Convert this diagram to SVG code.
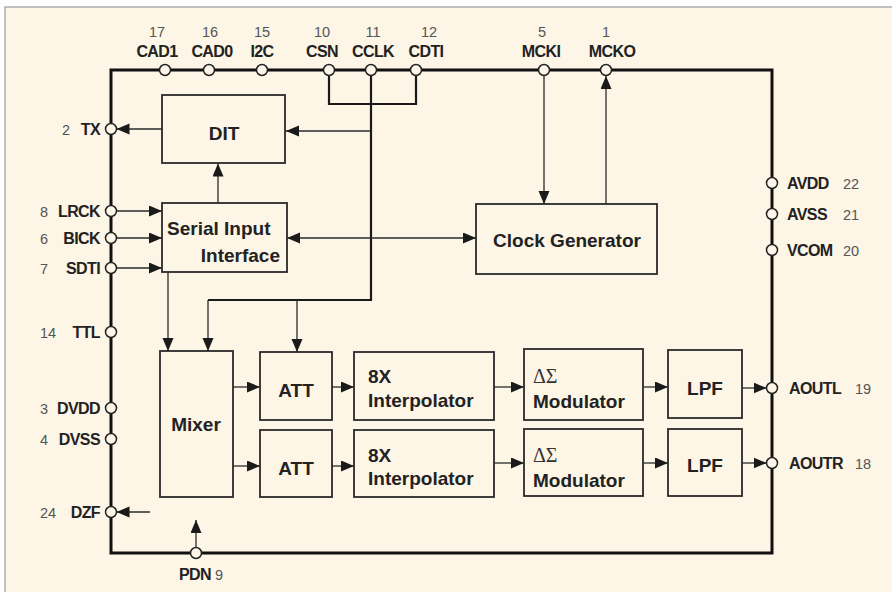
<svg xmlns="http://www.w3.org/2000/svg" width="892" height="592" viewBox="0 0 892 592">
<defs>
<marker id="ah" markerUnits="userSpaceOnUse" markerWidth="14" markerHeight="12" refX="13" refY="5.5" orient="auto-start-reverse" viewBox="0 0 14 12"><path d="M0,0 L13,5.5 L0,11 z" fill="#1a1a1a"/></marker>
</defs>
<style>
.box{fill:none;stroke:#2a2a2a;stroke-width:1.8}
.lbl{font-family:"Liberation Sans",Arial,sans-serif;font-weight:bold;font-size:19px;fill:#222}
.ctr{text-anchor:middle}
.ds{font-family:"Liberation Serif","Times New Roman",serif;font-size:20px;fill:#333}
.pn{font-family:"Liberation Sans",Arial,sans-serif;font-weight:bold;font-size:16px;letter-spacing:-0.6px;fill:#222}
.num{font-family:"Liberation Sans",Arial,sans-serif;font-size:14.5px;fill:#555}
.pin{fill:#fdf6e8;stroke:#222;stroke-width:1.5}
.w{fill:none;stroke:#2a2a2a;stroke-width:1.3}
.ar{marker-end:url(#ah)}
.bus{fill:none;stroke:#1a1a1a;stroke-width:2.2}
</style>
<rect x="0" y="0" width="892" height="592" fill="#ffffff"/>
<rect x="5" y="7" width="900" height="600" fill="#fdf5e6" stroke="#9a9a9a" stroke-width="1.2"/>
<rect id="chip" x="111" y="70" width="661" height="483" fill="none" stroke="#111" stroke-width="3"/>

<g id="connectors">
<path class="w ar" d="M162,129 H116.5"/>
<path class="bus" d="M329,75.5 V104 H416 V75.5"/>
<path class="bus" d="M371,75.5 V300 H208"/>
<path class="w ar" d="M371,131 H286"/>
<path class="w ar" d="M208,300 V351"/>
<path class="w ar" d="M297,300 V352"/>
<path class="w ar" d="M218,203 V163.5"/>
<path class="w ar" d="M116.5,211 H162"/>
<path class="w ar" d="M116.5,238 H162"/>
<path class="w ar" d="M116.5,268 H162"/>
<path class="w ar" d="M287,238 H476" marker-start="url(#ah)"/>
<path class="w ar" d="M544,75.5 V204"/>
<path class="w ar" d="M606,204 V76"/>
<path class="w ar" d="M168,272 V351"/>
<path class="w ar" d="M233,387 H260"/>
<path class="w ar" d="M233,466 H260"/>
<path class="w ar" d="M332,387 H354"/>
<path class="w ar" d="M332,466 H354"/>
<path class="w ar" d="M494,387 H524"/>
<path class="w ar" d="M494,463 H524"/>
<path class="w ar" d="M643,387 H668"/>
<path class="w ar" d="M643,463 H668"/>
<path class="w ar" d="M742,388 H766.5"/>
<path class="w ar" d="M742,463 H766.5"/>
<path class="w ar" d="M150,512 H116.5"/>
<path class="w ar" d="M196,547.5 V520"/>
</g>

<g id="dit"><rect class="box" x="162" y="95" width="123" height="68"/><text class="lbl ctr" x="224" y="140">DIT</text></g>
<g id="sii"><rect class="box" x="162" y="203" width="125" height="69"/><text class="lbl" x="167" y="235">Serial Input</text><text class="lbl" x="280" y="262" text-anchor="end">Interface</text></g>
<g id="clockgen"><rect class="box" x="476" y="204" width="181" height="70"/><text class="lbl ctr" x="567" y="247">Clock Generator</text></g>
<g id="mixer"><rect class="box" x="160" y="351" width="73" height="146"/><text class="lbl ctr" x="196" y="431">Mixer</text></g>
<g id="att1"><rect class="box" x="260" y="352" width="72" height="68"/><text class="lbl ctr" x="296" y="397">ATT</text></g>
<g id="att2"><rect class="box" x="260" y="430" width="72" height="67"/><text class="lbl ctr" x="296" y="475">ATT</text></g>
<g id="interp1"><rect class="box" x="354" y="352" width="140" height="68"/><text class="lbl" x="368" y="383">8X</text><text class="lbl" x="368" y="407">Interpolator</text></g>
<g id="interp2"><rect class="box" x="354" y="430" width="140" height="67"/><text class="lbl" x="368" y="462">8X</text><text class="lbl" x="368" y="485">Interpolator</text></g>
<g id="mod1"><rect class="box" x="524" y="349" width="119" height="71"/><text class="ds" x="533" y="383">ΔΣ</text><text class="lbl" x="533" y="408">Modulator</text></g>
<g id="mod2"><rect class="box" x="524" y="429" width="119" height="67"/><text class="ds" x="533" y="462">ΔΣ</text><text class="lbl" x="533" y="487">Modulator</text></g>
<g id="lpf1"><rect class="box" x="668" y="350" width="74" height="68"/><text class="lbl ctr" x="705" y="395">LPF</text></g>
<g id="lpf2"><rect class="box" x="668" y="429" width="74" height="67"/><text class="lbl ctr" x="705" y="472">LPF</text></g>

<g id="pin-cad1"><circle class="pin" cx="165" cy="70" r="5.5"/><text class="num ctr" x="157" y="37">17</text><text class="pn ctr" x="157" y="57">CAD1</text></g>
<g id="pin-cad0"><circle class="pin" cx="209" cy="70" r="5.5"/><text class="num ctr" x="210" y="37">16</text><text class="pn ctr" x="212" y="57">CAD0</text></g>
<g id="pin-i2c"><circle class="pin" cx="262" cy="70" r="5.5"/><text class="num ctr" x="262" y="37">15</text><text class="pn ctr" x="262" y="57">I2C</text></g>
<g id="pin-csn"><circle class="pin" cx="329" cy="70" r="5.5"/><text class="num ctr" x="322" y="37">10</text><text class="pn ctr" x="322" y="57">CSN</text></g>
<g id="pin-cclk"><circle class="pin" cx="371" cy="70" r="5.5"/><text class="num ctr" x="373" y="37">11</text><text class="pn ctr" x="373" y="57">CCLK</text></g>
<g id="pin-cdti"><circle class="pin" cx="416" cy="70" r="5.5"/><text class="num ctr" x="429" y="37">12</text><text class="pn ctr" x="426" y="57">CDTI</text></g>
<g id="pin-mcki"><circle class="pin" cx="544" cy="70" r="5.5"/><text class="num ctr" x="542" y="37">5</text><text class="pn ctr" x="541" y="57">MCKI</text></g>
<g id="pin-mcko"><circle class="pin" cx="606" cy="70" r="5.5"/><text class="num ctr" x="606" y="37">1</text><text class="pn ctr" x="612" y="57">MCKO</text></g>

<g id="pin-tx"><circle class="pin" cx="111" cy="129" r="5.5"/><text class="num" x="62" y="134.5">2</text><text class="pn" x="100" y="134.5" text-anchor="end">TX</text></g>
<g id="pin-lrck"><circle class="pin" cx="111" cy="211" r="5.5"/><text class="num" x="40" y="216.5">8</text><text class="pn" x="100" y="216.5" text-anchor="end">LRCK</text></g>
<g id="pin-bick"><circle class="pin" cx="111" cy="238" r="5.5"/><text class="num" x="40" y="243.5">6</text><text class="pn" x="100" y="243.5" text-anchor="end">BICK</text></g>
<g id="pin-sdti"><circle class="pin" cx="111" cy="268" r="5.5"/><text class="num" x="40" y="273.5">7</text><text class="pn" x="100" y="273.5" text-anchor="end">SDTI</text></g>
<g id="pin-ttl"><circle class="pin" cx="111" cy="332" r="5.5"/><text class="num" x="40" y="337.5">14</text><text class="pn" x="100" y="337.5" text-anchor="end">TTL</text></g>
<g id="pin-dvdd"><circle class="pin" cx="111" cy="408" r="5.5"/><text class="num" x="40" y="413.5">3</text><text class="pn" x="100" y="413.5" text-anchor="end">DVDD</text></g>
<g id="pin-dvss"><circle class="pin" cx="111" cy="439" r="5.5"/><text class="num" x="40" y="444.5">4</text><text class="pn" x="100" y="444.5" text-anchor="end">DVSS</text></g>
<g id="pin-dzf"><circle class="pin" cx="111" cy="512" r="5.5"/><text class="num" x="40" y="517.5">24</text><text class="pn" x="100" y="517.5" text-anchor="end">DZF</text></g>

<g id="pin-avdd"><circle class="pin" cx="772" cy="183" r="5.5"/><text class="pn" x="787" y="188.5">AVDD</text><text class="num" x="843" y="188.5">22</text></g>
<g id="pin-avss"><circle class="pin" cx="772" cy="214" r="5.5"/><text class="pn" x="787" y="219.5">AVSS</text><text class="num" x="843" y="219.5">21</text></g>
<g id="pin-vcom"><circle class="pin" cx="772" cy="250" r="5.5"/><text class="pn" x="787" y="255.5">VCOM</text><text class="num" x="843" y="255.5">20</text></g>
<g id="pin-aoutl"><circle class="pin" cx="772" cy="388" r="5.5"/><text class="pn" x="789" y="393.5">AOUTL</text><text class="num" x="855" y="393.5">19</text></g>
<g id="pin-aoutr"><circle class="pin" cx="772" cy="463" r="5.5"/><text class="pn" x="789" y="468.5">AOUTR</text><text class="num" x="855" y="468.5">18</text></g>

<g id="pin-pdn"><circle class="pin" cx="196" cy="553" r="5.5"/><text class="pn" x="179" y="580">PDN</text><text class="num" x="215" y="580">9</text></g>
</svg>
